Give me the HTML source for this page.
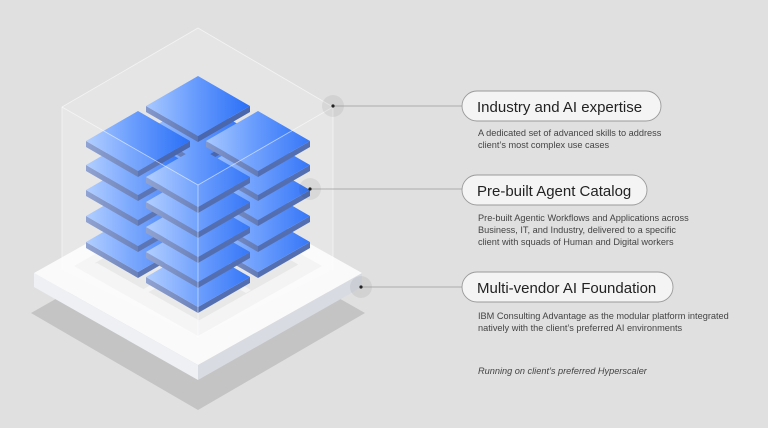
<!DOCTYPE html>
<html><head><meta charset="utf-8"><style>
html,body{margin:0;padding:0;background:#e0e0e0;}
svg{display:block}
text{font-family:"Liberation Sans",sans-serif}
</style></head><body>
<svg width="768" height="428" viewBox="0 0 768 428" xmlns="http://www.w3.org/2000/svg">
<defs>
<linearGradient id="tg" x1="0" x2="1" y1="0" y2="0">
<stop offset="0" stop-color="#a9c9ff"/><stop offset="0.45" stop-color="#6a9dfd"/><stop offset="1" stop-color="#2a6ff8"/>
</linearGradient>
<linearGradient id="lg" x1="0" x2="1"><stop offset="0" stop-color="#8599cc"/><stop offset="1" stop-color="#5a73b2"/></linearGradient>
<g id="t">
<polygon points="-52,0 0,30 0,36 -52,6" fill="url(#lg)"/>
<polygon points="0,30 52,0 52,6 0,36" fill="#4a66ad"/>
<polygon points="0,-30 52,0 0,30 -52,0" fill="url(#tg)"/>
</g>
</defs>
<rect width="768" height="428" fill="#e0e0e0"/>
<polygon points="31,313 198,218 365,313 198,410" fill="#c4c4c4"/>
<polygon points="34,273 198,365 198,380 34,287" fill="#eef0f4"/>
<polygon points="198,365 362,273 362,287 198,380" fill="#d8dbe2"/>
<polygon points="34,273 198,181 362,273 198,365" fill="#fafafa"/>
<polygon points="74,266 198,196 322,266 198,336" fill="#f2f2f3"/>
<polygon points="95,263 198,205 301,263 198,321" fill="#e2e2e2"/>
<polygon points="196,205 200,205 303,263 299,265" fill="#f2f2f3"/>
<polygon points="196,321 200,321 97,263 93,265" fill="#f2f2f3"/>
<polygon points="143,234 148,231 251,290 246,293" fill="#f2f2f3"/>
<polygon points="250,234 245,231 142,290 147,293" fill="#f2f2f3"/>
<polygon points="62,107 198,28 333,107 333,270 198,337 62,270" fill="#ffffff" opacity="0.18"/>
<use href="#t" x="198" y="206"/><use href="#t" x="198" y="181"/><use href="#t" x="198" y="156"/><use href="#t" x="198" y="131"/><use href="#t" x="198" y="106"/>
<use href="#t" x="138" y="242"/><use href="#t" x="138" y="216"/><use href="#t" x="138" y="190"/><use href="#t" x="138" y="165"/><use href="#t" x="138" y="141"/>
<use href="#t" x="258" y="242"/><use href="#t" x="258" y="216"/><use href="#t" x="258" y="190"/><use href="#t" x="258" y="165"/><use href="#t" x="258" y="141"/>
<use href="#t" x="198" y="277"/><use href="#t" x="198" y="252"/><use href="#t" x="198" y="227"/><use href="#t" x="198" y="202"/><use href="#t" x="198" y="177"/>
<polygon points="62,107 198,185 198,337 62,270" fill="#ffffff" opacity="0.1"/>
<polygon points="198,185 333,107 333,270 198,337" fill="#ffffff" opacity="0.06"/>
<g stroke="#ffffff" stroke-opacity="0.6" stroke-width="0.8" fill="none">
<polyline points="62,270 62,107 198,28 333,107 333,270"/>
<polyline points="62,107 198,185 333,107"/>
<line x1="198" y1="185" x2="198" y2="337"/>
</g>
<g fill="#000" fill-opacity="0.06"><circle cx="333" cy="106" r="11"/><circle cx="310" cy="189" r="11"/><circle cx="361" cy="287" r="11"/></g>
<g stroke="#9a9a9a" stroke-width="0.8"><line x1="333" y1="106" x2="462" y2="106"/><line x1="310" y1="189" x2="462" y2="189"/><line x1="361" y1="287" x2="462" y2="287"/></g>
<g fill="#222"><circle cx="333" cy="106" r="1.6"/><circle cx="310" cy="189" r="1.6"/><circle cx="361" cy="287" r="1.6"/></g>
<g fill="#f4f4f4" stroke="#9a9a9a" stroke-width="0.9">
<rect x="462" y="91" width="199" height="30" rx="15"/>
<rect x="462" y="175" width="185" height="30" rx="15"/>
<rect x="462" y="272" width="211" height="30" rx="15"/>
</g>
<g fill="#222" font-size="15">
<text x="477" y="112">Industry and AI expertise</text>
<text x="477" y="196">Pre-built Agent Catalog</text>
<text x="477" y="293">Multi-vendor AI Foundation</text>
</g>
<g fill="#444" font-size="9.2">
<text x="478" y="136">A dedicated set of advanced skills to address</text>
<text x="478" y="148">client’s most complex use cases</text>
<text x="478" y="221">Pre-built Agentic Workflows and Applications across</text>
<text x="478" y="233">Business, IT, and Industry,  delivered to a specific</text>
<text x="478" y="245">client with squads of Human and Digital workers</text>
<text x="478" y="319">IBM Consulting Advantage as the modular platform integrated</text>
<text x="478" y="331">natively with the client’s preferred AI environments</text>
<text x="478" y="374" font-style="italic">Running on client’s preferred Hyperscaler</text>
</g>
</svg>
</body></html>
